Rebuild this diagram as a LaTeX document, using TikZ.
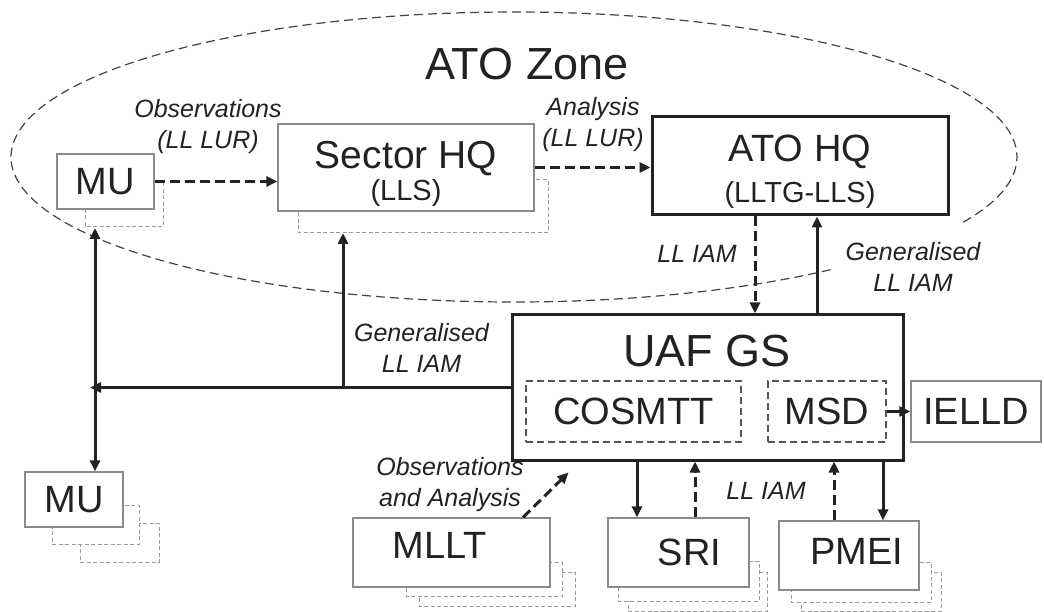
\documentclass[tikz,border=0pt]{standalone}
\usepackage{fontspec}
\setmainfont{Liberation Sans}
\usetikzlibrary{arrows.meta}

\definecolor{ink}{HTML}{222222}
\definecolor{rim}{HTML}{8A8A8A}
\definecolor{copygray}{HTML}{9A9A9A}
\definecolor{partgray}{HTML}{555555}
\newcommand{\boxfont}{\fontsize{38}{42}\selectfont}
\newcommand{\subfont}{\fontsize{29}{32}\selectfont}

\tikzset{
    unit/.style={draw=rim, line width=1.2pt, fill=white, text=ink, inner sep=0pt, font=\boxfont},
    hq/.style={draw=ink, line width=3pt, fill=white, text=ink, inner sep=0pt},
    part/.style={draw=partgray, line width=1.3pt, dash pattern=on 7pt off 4pt, text=ink, inner sep=0pt, font=\boxfont},
    copybox/.style={draw=copygray, line width=1pt, dash pattern=on 4pt off 2.5pt, fill=white},
    zone/.style={draw=ink!85, line width=1.2pt, dash pattern=on 9pt off 5pt},
    lbl/.style={text=ink, font=\fontsize{25}{31}\selectfont\itshape, align=center, inner sep=0pt},
    flow/.style={draw=ink, line width=3pt, -{Triangle[length=11pt,width=10pt]}},
    flowdash/.style={flow, dash pattern=on 10pt off 5pt},
}

\begin{document}
\begin{tikzpicture}[x=1pt,y=-1pt]
    \useasboundingbox (0,0) rectangle (1044,612);
    % zone outline, left open behind the right-hand label
    \draw[zone] (514,157) ++(51:503 and 145) arc[start angle=51, end angle=386.8, x radius=503, y radius=145];
    \node[text=ink, font=\fontsize{45}{48}\selectfont, inner sep=0pt] (zone) at (527,64.5) {ATO Zone};

    % stacked copies behind the units
    \foreach \xa/\ya/\xb/\yb in {85/183/163/227, 298/180/548/233,
        80/523/159/562, 52/505/139/544, 419/572/575/606, 406/562/562/596,
        628/572/767/611, 618/561/759/601, 801/572/941/611, 791/562/931/602} {
        \path[copybox] (\xa,\ya) rectangle (\xb,\yb);
    }

    \node[unit, minimum width=97pt, minimum height=55pt] (mu1) at (105.5,181.5) {MU};
    \node[unit, minimum width=256pt, minimum height=87pt, align=center, font=\fontsize{39}{32}\selectfont] (sector) at (406,167.5) {\rule{0pt}{40pt}Sector HQ\\{\subfont (LLS)}};
    \node[hq, minimum width=296pt, minimum height=98pt, align=center, font=\fontsize{38}{41}\selectfont] (atohq) at (800,166) {\rule{0pt}{38pt}ATO HQ\\{\subfont (LLTG-LLS)}};
    \node[hq, minimum width=391pt, minimum height=145pt] (uaf) at (707.5,387.5) {};
    \node[text=ink, font=\fontsize{45}{48}\selectfont, inner sep=0pt] (uaftitle) at (707,351) {UAF GS};
    \node[part, minimum width=215pt, minimum height=61pt] (cosmtt) at (633.5,411.5) {COSMTT};
    \node[part, minimum width=118pt, minimum height=61pt] (msd) at (827,411.5) {MSD};
    \node[unit, minimum width=130pt, minimum height=61pt] (ielld) at (976,411.5) {IELLD};
    \node[unit, minimum width=98pt, minimum height=55pt] (mu2) at (74,499.5) {MU};
    \node[unit, minimum width=197pt, minimum height=69pt] (mllt) at (451.5,552.5) {MLLT\hspace*{24pt}\rule[-14pt]{0pt}{14pt}};
    \node[unit, minimum width=141pt, minimum height=69pt] (sri) at (678.5,552.5) {\hspace*{22pt}SRI};
    \node[unit, minimum width=140pt, minimum height=69pt] (pmei) at (849,555.5) {\hspace*{16pt}PMEI\rule[-8pt]{0pt}{8pt}};

    % reports up the chain
    \draw[flowdash] (mu1.east) -- (mu1.east -| sector.west);
    \draw[flowdash] (sector.east) -- (sector.east -| atohq.west);
    \coordinate (iamdown) at ([xshift=-45pt]atohq.south);
    \coordinate (genup) at ([xshift=17pt]atohq.south);
    \draw[flowdash] (iamdown) -- (iamdown |- uaf.north);
    \draw[flow] (genup |- uaf.north) -- (genup);

    % generalised lessons back out
    \coordinate (split) at (95,387.5);
    \coordinate (tee) at (343,387.5);
    \coordinate (mu1foot) at (95,228);
    \coordinate (sectorfoot) at (343,233);
    \draw[flow] (uaf.west) -- ([xshift=-5pt]split);
    \draw[flow] (split) -- (mu1foot);
    \draw[flow] (split) -- (split |- mu2.north);
    \draw[flow] (tee) -- (sectorfoot);

    % lower exchanges
    \coordinate (sridown) at ([xshift=-41.5pt]sri.north);
    \coordinate (sriup) at ([xshift=16.5pt]sri.north);
    \coordinate (pmeiup) at ([xshift=-15pt]pmei.north);
    \coordinate (pmeidown) at ([xshift=34pt]pmei.north);
    \draw[flow] (sridown |- uaf.south) -- (sridown);
    \draw[flowdash] (sriup) -- (sriup |- uaf.south);
    \draw[flowdash] (pmeiup) -- (pmeiup |- uaf.south);
    \draw[flow] (pmeidown |- uaf.south) -- (pmeidown);
    \coordinate (mlltout) at ([xshift=71.5pt]mllt.north);
    \coordinate (uafin) at ([xshift=58pt,yshift=-11pt]uaf.south west);
    \draw[flowdash] (mlltout) -- (uafin);
    \draw[flow, line width=2.5pt] (msd.east) -- (ielld.west);

    \node[lbl] (obslbl) at (208,127) {Observations\\(LL LUR)};
    \node[lbl] (analbl) at (593,125) {Analysis\\(LL LUR)};
    \node[lbl] (iamlbl) at (697,253.5) {LL IAM};
    \node[lbl] (genuplbl) at (913,266.5) {Generalised\\LL IAM};
    \node[lbl] (genleftlbl) at (421.5,347.5) {Generalised\\LL IAM};
    \node[lbl] (obsanalbl) at (450,485) {Observations\\and Analysis};
    \node[lbl] (iamlowlbl) at (766,490.5) {LL IAM};
\end{tikzpicture}
\end{document}
